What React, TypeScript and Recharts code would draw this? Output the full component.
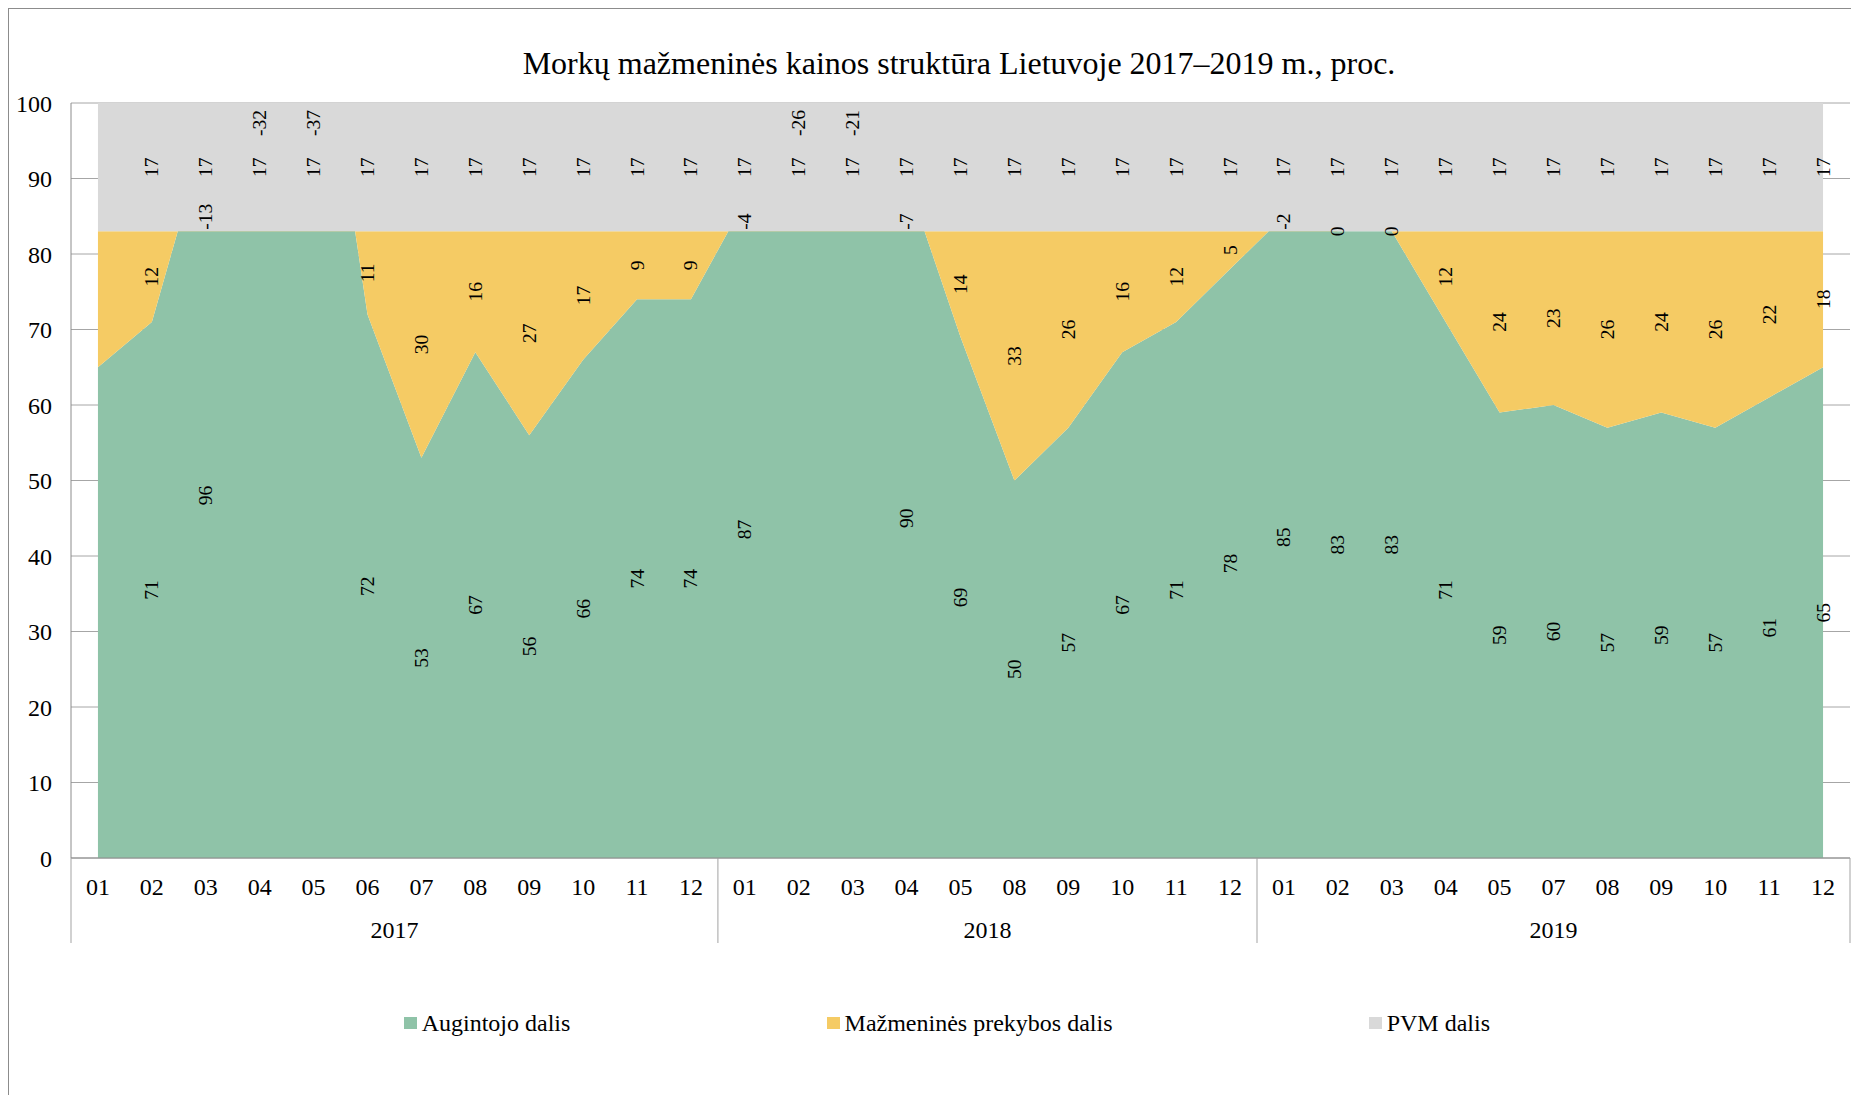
import React from "react";
import { ComposedChart, Area, Line, XAxis, YAxis, CartesianGrid, LabelList } from "recharts";

// ---- data ----
const years = ["2017", "2018", "2019"];
const months2017 = ["01", "02", "03", "04", "05", "06", "07", "08", "09", "10", "11", "12"];
const months2018 = ["01", "02", "03", "04", "05", "08", "09", "10", "11", "12"];
const months2019 = ["01", "02", "03", "04", "05", "07", "08", "09", "10", "11", "12"];
const augintojoDalis = [65, 71, 96, 115, 120, 72, 53, 67, 56, 66, 74, 74, 87, 109, 104, 90, 69, 50, 57, 67, 71, 78, 85, 83, 83, 71, 59, 60, 57, 59, 57, 61, 65];
const prekybosDalis = [18, 12, -13, -32, -37, 11, 30, 16, 27, 17, 9, 9, -4, -26, -21, -7, 14, 33, 26, 16, 12, 5, -2, 0, 0, 12, 24, 23, 26, 24, 26, 22, 18];
const pvmDalis = [17, 17, 17, 17, 17, 17, 17, 17, 17, 17, 17, 17, 17, 17, 17, 17, 17, 17, 17, 17, 17, 17, 17, 17, 17, 17, 17, 17, 17, 17, 17, 17, 17];
const seriesNames = ["Augintojo dalis", "Mažmeninės prekybos dalis", "PVM dalis"];
const yTicks = [0, 10, 20, 30, 40, 50, 60, 70, 80, 90, 100];
const TITLE = "Morkų mažmeninės kainos struktūra Lietuvoje 2017–2019 m., proc.";

// ---- style ----
const FONT = "'Liberation Serif', 'Times New Roman', serif";
const C_GREEN = "#8fc3a8";
const C_YELLOW = "#f5cb64";
const C_GRAY = "#d9d9d9";
const Y_MAX = 100;

const CHART_W = 1850;
const CHART_H = 1086;
const MARGIN = { top: 94, right: 9, left: 0, bottom: 147 };
const Y_AXIS_W = 62;
const N = augintojoDalis.length;
const STEP = (CHART_W - MARGIN.left - MARGIN.right - Y_AXIS_W) / N;

const monthGroups = [months2017, months2018, months2019];
const groups: { year: string; start: number; end: number }[] = [];
const rowsYear: string[] = [];
const rowsMonth: string[] = [];
{
  let s = 0;
  monthGroups.forEach((ms, gi) => {
    groups.push({ year: years[gi], start: s, end: s + ms.length - 1 });
    ms.forEach((m) => {
      rowsYear.push(years[gi]);
      rowsMonth.push(m);
    });
    s += ms.length;
  });
}

const data = augintojoDalis.map((g, i) => {
  const y = prekybosDalis[i];
  const p = pvmDalis[i];
  const show = i > 0;
  const gVisible = g <= Y_MAX;
  return {
    key: rowsYear[i] + "-" + rowsMonth[i],
    month: rowsMonth[i],
    g,
    y,
    p,
    gPos: show && gVisible ? g / 2 : null,
    gText: show && gVisible ? String(g) : null,
    yMidPos: show && y >= 0 ? g + y / 2 : null,
    yMidText: show && y >= 0 ? String(y) : null,
    yUpPos: show && y < 0 && gVisible ? g + y : null,
    yUpText: show && y < 0 && gVisible ? String(y) : null,
    yDownPos: show && y < 0 && !gVisible ? Y_MAX : null,
    yDownText: show && y < 0 && !gVisible ? String(y) : null,
    pPos: show ? g + y + p / 2 : null,
    pText: show ? String(p) : null,
  };
});

const makeLabel = (mode: "middle" | "start" | "end") => (props: any) => {
  const value = props.value;
  const x = typeof props.x === "number" ? props.x : props.viewBox?.x;
  const y = typeof props.y === "number" ? props.y : props.viewBox?.y;
  if (value == null || typeof x !== "number" || typeof y !== "number" || isNaN(y)) return null;
  const yy = mode === "start" ? y - 1.5 : mode === "end" ? y + 7 : y;
  return (
    <text
      x={x}
      y={yy}
      transform={`rotate(-90 ${x} ${yy})`}
      textAnchor={mode}
      dominantBaseline="central"
      fontSize={19.5}
      fill="#000"
      style={{ fontFamily: FONT }}
    >
      {value}
    </text>
  );
};

const MonthTick = (props: any) => {
  const { x, y, index } = props;
  return (
    <text x={x} y={y + 36.7} textAnchor="middle" fontSize={24} style={{ fontFamily: FONT }} fill="#000">
      {rowsMonth[index]}
    </text>
  );
};

const YearTick = (props: any) => {
  const { x, y, index } = props;
  const els: React.ReactNode[] = [];
  groups.forEach((g, gi) => {
    if (index === g.start) {
      els.push(<line key={"s" + gi} x1={x - STEP / 2} x2={x - STEP / 2} y1={y - 40} y2={y + 45} stroke="#a3a3a3" strokeWidth={1} />);
    }
    const mid = (g.start + g.end) / 2;
    if (index === Math.floor(mid)) {
      els.push(
        <text key={"t" + gi} x={x + (mid - index) * STEP} y={y + 39.5} textAnchor="middle" fontSize={24} style={{ fontFamily: FONT }} fill="#000">
          {g.year}
        </text>
      );
    }
  });
  if (index === N - 1) {
    els.push(<line key="end" x1={x + STEP / 2} x2={x + STEP / 2} y1={y - 40} y2={y + 45} stroke="#a3a3a3" strokeWidth={1} />);
  }
  return <g>{els}</g>;
};

const legendItems = [
  { name: seriesNames[0], color: C_GREEN },
  { name: seriesNames[1], color: C_YELLOW },
  { name: seriesNames[2], color: C_GRAY },
];

export default function App() {
  return (
    <>
      <style>{`html, body { overflow: hidden; }`}</style>
      <div
        style={{
          position: "relative",
          width: 1860,
          height: 1100,
          borderTop: "1px solid #8c8c8c",
          borderLeft: "1px solid #8c8c8c",
          overflow: "hidden",
          fontFamily: FONT,
          background: "#fff",
        }}
      >
        <div
          style={{
            position: "absolute",
            left: 0,
            top: 37.5,
            width: 1900,
            textAlign: "center",
            fontSize: 32,
            lineHeight: "32px",
            color: "#000",
            whiteSpace: "nowrap",
          }}
        >
          {TITLE}
        </div>
        <ComposedChart width={CHART_W} height={CHART_H} data={data} margin={MARGIN}>
          <CartesianGrid horizontal vertical={false} stroke="#a6a6a6" />
          <XAxis
            dataKey="key"
            scale="point"
            padding={{ left: STEP / 2, right: STEP / 2 }}
            interval={0}
            height={40}
            tickLine={false}
            tickSize={0}
            tickMargin={0}
            axisLine={{ stroke: "#8c8c8c" }}
            tick={<MonthTick />}
          />
          <XAxis
            xAxisId="yr"
            dataKey="key"
            scale="point"
            padding={{ left: STEP / 2, right: STEP / 2 }}
            interval={0}
            height={50}
            tickLine={false}
            tickSize={0}
            tickMargin={0}
            axisLine={false}
            tick={<YearTick />}
          />
          <YAxis
            domain={[0, Y_MAX]}
            ticks={yTicks}
            allowDataOverflow
            width={Y_AXIS_W}
            tickLine={false}
            tickSize={0}
            tickMargin={19}
            axisLine={{ stroke: "#8c8c8c" }}
            tick={{ fontSize: 24, fill: "#000", fontFamily: FONT }}
          />
          <Area type="linear" dataKey="g" stackId="s" stroke="none" fill={C_GREEN} fillOpacity={1} isAnimationActive={false} name={seriesNames[0]} />
          <Area type="linear" dataKey="y" stackId="s" stroke="none" fill={C_YELLOW} fillOpacity={1} isAnimationActive={false} name={seriesNames[1]} />
          <Area type="linear" dataKey="p" stackId="s" stroke="none" fill={C_GRAY} fillOpacity={1} isAnimationActive={false} name={seriesNames[2]} />
          <Line dataKey="gPos" stroke="none" dot={false} activeDot={false} isAnimationActive={false} legendType="none">
            <LabelList dataKey="gText" content={makeLabel("middle")} />
          </Line>
          <Line dataKey="yMidPos" stroke="none" dot={false} activeDot={false} isAnimationActive={false} legendType="none">
            <LabelList dataKey="yMidText" content={makeLabel("middle")} />
          </Line>
          <Line dataKey="yUpPos" stroke="none" dot={false} activeDot={false} isAnimationActive={false} legendType="none">
            <LabelList dataKey="yUpText" content={makeLabel("start")} />
          </Line>
          <Line dataKey="yDownPos" stroke="none" dot={false} activeDot={false} isAnimationActive={false} legendType="none">
            <LabelList dataKey="yDownText" content={makeLabel("end")} />
          </Line>
          <Line dataKey="pPos" stroke="none" dot={false} activeDot={false} isAnimationActive={false} legendType="none">
            <LabelList dataKey="pText" content={makeLabel("middle")} />
          </Line>
        </ComposedChart>
        <div
          style={{
            position: "absolute",
            left: 395,
            top: 1001.6,
            display: "flex",
            alignItems: "center",
            gap: 256.5,
            fontSize: 24,
            lineHeight: "24px",
            color: "#000",
            whiteSpace: "nowrap",
          }}
        >
          {legendItems.map((it) => (
            <div key={it.name} style={{ display: "flex", alignItems: "center" }}>
              <span style={{ display: "inline-block", width: 12.7, height: 12, background: it.color, marginRight: 5 }} />
              <span>{it.name}</span>
            </div>
          ))}
        </div>
      </div>
    </>
  );
}
